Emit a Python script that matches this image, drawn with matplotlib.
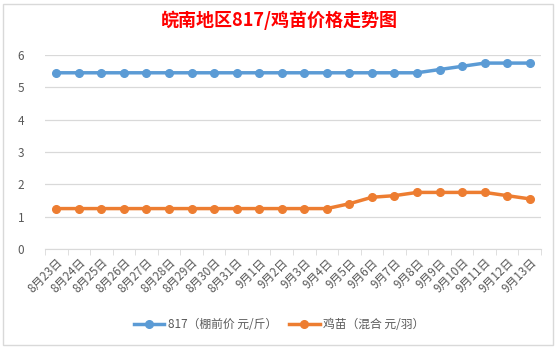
import matplotlib
matplotlib.use("Agg")
import matplotlib.pyplot as plt
from matplotlib.patches import Rectangle

plt.rcParams['font.family'] = ['Noto Sans CJK SC', 'DejaVu Sans']

dates = ["8月23日", "8月24日", "8月25日", "8月26日", "8月27日", "8月28日", "8月29日",
         "8月30日", "8月31日", "9月1日", "9月2日", "9月3日", "9月4日", "9月5日",
         "9月6日", "9月7日", "9月8日", "9月9日", "9月10日", "9月11日", "9月12日", "9月13日"]
price_817 = [5.45, 5.45, 5.45, 5.45, 5.45, 5.45, 5.45, 5.45, 5.45, 5.45, 5.45, 5.45,
             5.45, 5.45, 5.45, 5.45, 5.45, 5.55, 5.65, 5.75, 5.75, 5.75]
price_chick = [1.25, 1.25, 1.25, 1.25, 1.25, 1.25, 1.25, 1.25, 1.25, 1.25, 1.25, 1.25,
               1.25, 1.4, 1.6, 1.65, 1.75, 1.75, 1.75, 1.75, 1.65, 1.55]
yticks = [0, 1, 2, 3, 4, 5, 6]
title = "皖南地区817/鸡苗价格走势图"
label_817 = "817（棚前价 元/斤）"
label_chick = "鸡苗（混合 元/羽）"

W, H = 558, 349
fig = plt.figure(figsize=(W / 100, H / 100), dpi=100)
fig.patch.set_facecolor("white")
fig.add_artist(Rectangle((3 / W, 4 / H), 550 / W, 341 / H, transform=fig.transFigure,
                         facecolor="none", edgecolor="#d9d9d9", linewidth=1, zorder=-5))

ax = fig.add_axes([45 / W, (H - 249) / H, (541 - 45) / W, (249 - 55) / H])
ax.patch.set_alpha(0)
x = list(range(len(dates)))
ax.plot(x, price_817, color="#5b9bd5", linewidth=2.5, marker="o", markersize=5.5, label=label_817)
ax.plot(x, price_chick, color="#ed7d31", linewidth=2.5, marker="o", markersize=5.5, label=label_chick)

ax.set_xlim(-0.5, len(dates) - 0.5)
ax.set_ylim(0, 6)
ax.set_yticks(yticks)
ax.set_yticklabels([str(v) for v in yticks], color="#595959", fontsize=8.5)
ax.grid(axis="y", color="#d9d9d9", linewidth=0.9)
ax.set_axisbelow(True)
for s in ["top", "right", "left"]:
    ax.spines[s].set_visible(False)
ax.spines["bottom"].set_color("#d9d9d9")
ax.tick_params(axis="y", length=0, pad=15)
ax.set_xticks(x)
ax.set_xticklabels(dates, rotation=45, ha="right", rotation_mode="anchor",
                   color="#595959", fontsize=8.5)
ax.set_xticks([i - 0.5 for i in range(len(dates) + 1)], minor=True)
ax.tick_params(axis="x", which="major", length=0, pad=5)
ax.tick_params(axis="x", which="minor", length=4, color="#d9d9d9")

fig.text(0.5, (H - 20) / H, title, ha="center", va="center", color="red",
         fontsize=13, fontweight="bold")

fig.legend(loc="center", bbox_to_anchor=(0.5, (H - 325) / H), ncol=2, frameon=False,
           fontsize=8.5, labelcolor="#595959", handlelength=2.6, columnspacing=1.0,
           handletextpad=0.3)

fig.savefig("out.png", dpi=100, facecolor="white")
